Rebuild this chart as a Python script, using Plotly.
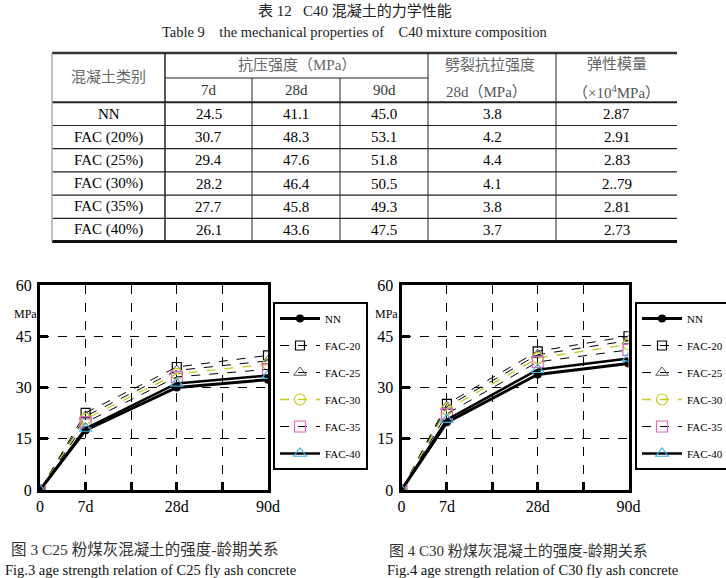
import plotly.graph_objects as go

W, H = 726, 578
def px(x): return x / W
def py(y): return 1 - y / H

SERIF = "Liberation Serif, Noto Sans CJK SC, serif"

# ---------------- table data ----------------
table_title_cn = "表 12\u00a0\u00a0\u00a0C40 混凝土的力学性能"
table_title_en = "Table 9\u00a0\u00a0\u00a0\u00a0the mechanical properties of\u00a0\u00a0\u00a0\u00a0C40 mixture composition"
concrete_types = ["NN", "FAC (20%)", "FAC (25%)", "FAC (30%)", "FAC (35%)", "FAC (40%)"]
comp_7d = ["24.5", "30.7", "29.4", "28.2", "27.7", "26.1"]
comp_28d = ["41.1", "48.3", "47.6", "46.4", "45.8", "43.6"]
comp_90d = ["45.0", "53.1", "51.8", "50.5", "49.3", "47.5"]
split_28d = ["3.8", "4.2", "4.4", "4.1", "3.8", "3.7"]
modulus = ["2.87", "2.91", "2.83", "2..79", "2.81", "2.73"]
table_columns = [concrete_types, comp_7d, comp_28d, comp_90d, split_28d, modulus]

# ---------------- chart data ----------------
ages = ["0", "7d", "28d", "90d"]
age_pos = [0, 1, 3, 5]
minor_grid_pos = [2, 4]
series_names = ["NN", "FAC-20", "FAC-25", "FAC-30", "FAC-35", "FAC-40"]

c25_NN = [0, 17.5, 30.0, 32.3]
c25_FAC20 = [0, 22.6, 36.0, 39.4]
c25_FAC25 = [0, 21.6, 35.0, 37.8]
c25_FAC30 = [0, 20.8, 34.0, 36.8]
c25_FAC35 = [0, 19.8, 33.1, 35.3]
c25_FAC40 = [0, 18.0, 31.2, 33.5]
c25_values = [c25_NN, c25_FAC20, c25_FAC25, c25_FAC30, c25_FAC35, c25_FAC40]

c30_NN = [0, 19.8, 33.8, 37.0]
c30_FAC20 = [0, 25.2, 40.6, 45.0]
c30_FAC25 = [0, 24.4, 39.6, 43.7]
c30_FAC30 = [0, 23.6, 38.6, 42.6]
c30_FAC35 = [0, 22.3, 37.5, 41.0]
c30_FAC40 = [0, 20.6, 35.2, 38.5]
c30_values = [c30_NN, c30_FAC20, c30_FAC25, c30_FAC30, c30_FAC35, c30_FAC40]

y_ticks = [0, 15, 30, 45, 60]

caption3_cn = "图 3 C25 粉煤灰混凝土的强度-龄期关系"
caption3_en = "Fig.3 age strength relation of C25 fly ash concrete"
caption4_cn = "图 4 C30 粉煤灰混凝土的强度-龄期关系"
caption4_en = "Fig.4 age strength relation of C30 fly ash concrete"

# styles
styles = [
    dict(line=dict(color="black", width=3, dash="solid"),
         marker=dict(symbol="circle", size=8, color="black")),
    dict(line=dict(color="black", width=1, dash="dash"),
         marker=dict(symbol="square-open", size=9, color="black", line=dict(width=1.2))),
    dict(line=dict(color="black", width=1, dash="dash"),
         marker=dict(symbol="triangle-up-open", size=11, color="#555555", line=dict(width=1))),
    dict(line=dict(color="#c8c81e", width=1.3, dash="dash"),
         marker=dict(symbol="circle-open", size=11, color="#c8c81e", line=dict(width=1.2))),
    dict(line=dict(color="black", width=1, dash="dash"),
         marker=dict(symbol="square-open", size=11, color="#e066c0", line=dict(width=1.2))),
    dict(line=dict(color="black", width=2.5, dash="solid"),
         marker=dict(symbol="triangle-up-open", size=11, color="#3cb4e6", line=dict(width=1.2))),
]

fig = go.Figure()
for k, (vals_set, xa, ya, lg) in enumerate([(c25_values, "x", "y", "legend"),
                                           (c30_values, "x2", "y2", "legend2")]):
    for i, name in enumerate(series_names):
        fig.add_trace(go.Scatter(
            x=age_pos, y=vals_set[i], name=name, mode="lines+markers",
            xaxis=xa, yaxis=ya, legend=lg, legendgroup=f"{k}-{name}",
            line=styles[i]["line"], marker=styles[i]["marker"],
        ))

def xaxis_cfg(x0, x1):
    return dict(domain=[px(x0), px(x1)], range=[0, 5], tickmode="array",
                tickvals=age_pos, ticktext=ages,
                showgrid=True, gridcolor="black", griddash="dash", gridwidth=1,
                minor=dict(tickmode="array", tickvals=minor_grid_pos, showgrid=True,
                           gridcolor="black", griddash="dash", gridwidth=1,
                           ticks="inside", ticklen=8, tickwidth=3, tickcolor="black"),
                showline=True, mirror=True, linecolor="black", linewidth=3,
                ticks="inside", ticklen=8, tickwidth=3, tickcolor="black",
                zeroline=False, fixedrange=True,
                tickfont=dict(family=SERIF, size=16, color="black"))

def yaxis_cfg(anchor):
    return dict(domain=[py(490), py(285)], range=[0, 60], tickvals=y_ticks,
                showgrid=True, gridcolor="black", griddash="dash", gridwidth=1,
                showline=True, mirror=True, linecolor="black", linewidth=3,
                ticks="inside", ticklen=8, tickwidth=3, tickcolor="black",
                zeroline=False, anchor=anchor, ticklabelstandoff=2,
                tickfont=dict(family=SERIF, size=16, color="black"))

legend_cfg = dict(bordercolor="black", borderwidth=2, bgcolor="white",
                  xref="container", yref="container",
                  xanchor="left", yanchor="top", itemwidth=40, tracegroupgap=8,
                  font=dict(family=SERIF, size=11, color="black"), itemclick=False)

annotations = []
shapes = []

def txt(x, y, s, size=15, color="black", xanchor="center"):
    annotations.append(dict(x=px(x), y=py(y), text=s, showarrow=False, xref="paper", yref="paper",
                            xanchor=xanchor, yanchor="middle",
                            font=dict(family=SERIF, size=size, color=color)))

# titles
txt(355, 11, table_title_cn, 15, "#222")
txt(354, 32, table_title_en, 14.5, "#222")

# table geometry
col_edges = [52, 165, 252, 340, 428, 556, 677]
header_top, header_mid, header_bot = 53, 78, 102.3
row_h = 23.2
n_rows = len(concrete_types)
table_bot = header_bot + n_rows * row_h

def hline(y, x0, x1, w, c="#222"):
    shapes.append(dict(type="line", xref="paper", yref="paper", x0=px(x0), x1=px(x1),
                       y0=py(y), y1=py(y), line=dict(color=c, width=w)))

def vline(x, y0, y1, w, c="#222"):
    shapes.append(dict(type="line", xref="paper", yref="paper", x0=px(x), x1=px(x),
                       y0=py(y0), y1=py(y1), line=dict(color=c, width=w)))

hline(header_top, col_edges[0], col_edges[-1], 2.5, "#333")
hline(header_mid, col_edges[1], col_edges[4], 1)
hline(header_bot, col_edges[0], col_edges[-1], 2)
for r in range(1, n_rows):
    hline(header_bot + r * row_h, col_edges[0], col_edges[-1], 1.2)
hline(table_bot, col_edges[0], col_edges[-1], 3, "#111")
vline(col_edges[0], header_top, table_bot, 1.5, "#aaaaaa")
vline(col_edges[1], header_top, table_bot, 1.5)
vline(col_edges[2], header_mid, table_bot, 1)
vline(col_edges[3], header_mid, table_bot, 1)
vline(col_edges[4], header_top, table_bot, 1)
vline(col_edges[5], header_top, table_bot, 1)

cc = [(col_edges[i] + col_edges[i + 1]) / 2 for i in range(6)]
txt(cc[0], 77, "混凝土类别", 15, "#666")
txt((col_edges[1] + col_edges[4]) / 2, 65, "抗压强度（MPa）", 15, "#666")
txt(cc[1], 90, "7d", 15, "#333")
txt(cc[2], 90, "28d", 15, "#333")
txt(cc[3], 90, "90d", 15, "#333")
txt(cc[4] - 2, 64, "劈裂抗拉强度", 15, "#666")
txt(cc[4] - 6, 92, "28d（MPa）", 15, "#555")
txt(cc[5], 64, "弹性模量", 15, "#666")
txt(cc[5], 92, "（×10<sup>4</sup>MPa）", 15, "#555")

for c, col in enumerate(table_columns):
    for r, v in enumerate(col):
        txt(cc[c], header_bot + (r + 0.5) * row_h, v, 15, "black")

# MPa labels
txt(25, 314, "MPa", 12, "black")
txt(386, 314, "MPa", 12, "black")

# captions
txt(9, 549, caption3_cn, 15.5, "#333", "left")
txt(3, 570, caption3_en, 14.5, "#111", "left")
txt(387, 551, caption4_cn, 15, "#333", "left")
txt(385, 570, caption4_en, 14.5, "#111", "left")

fig.update_layout(
    width=W, height=H, margin=dict(l=0, r=0, t=0, b=0, autoexpand=False),
    paper_bgcolor="white", plot_bgcolor="white",
    xaxis=xaxis_cfg(40, 268), yaxis=yaxis_cfg("x"),
    xaxis2=xaxis_cfg(401.5, 628.5), yaxis2=yaxis_cfg("x2"),
    legend=dict(legend_cfg, x=px(273), y=py(302)),
    legend2=dict(legend_cfg, x=px(635), y=py(302)),
    annotations=annotations, shapes=shapes,
    showlegend=True,
)

fig.write_html("out.html", config={"displayModeBar": False, "staticPlot": True},
               post_script="document.body.style.margin='0px';document.body.style.overflow='hidden';")
